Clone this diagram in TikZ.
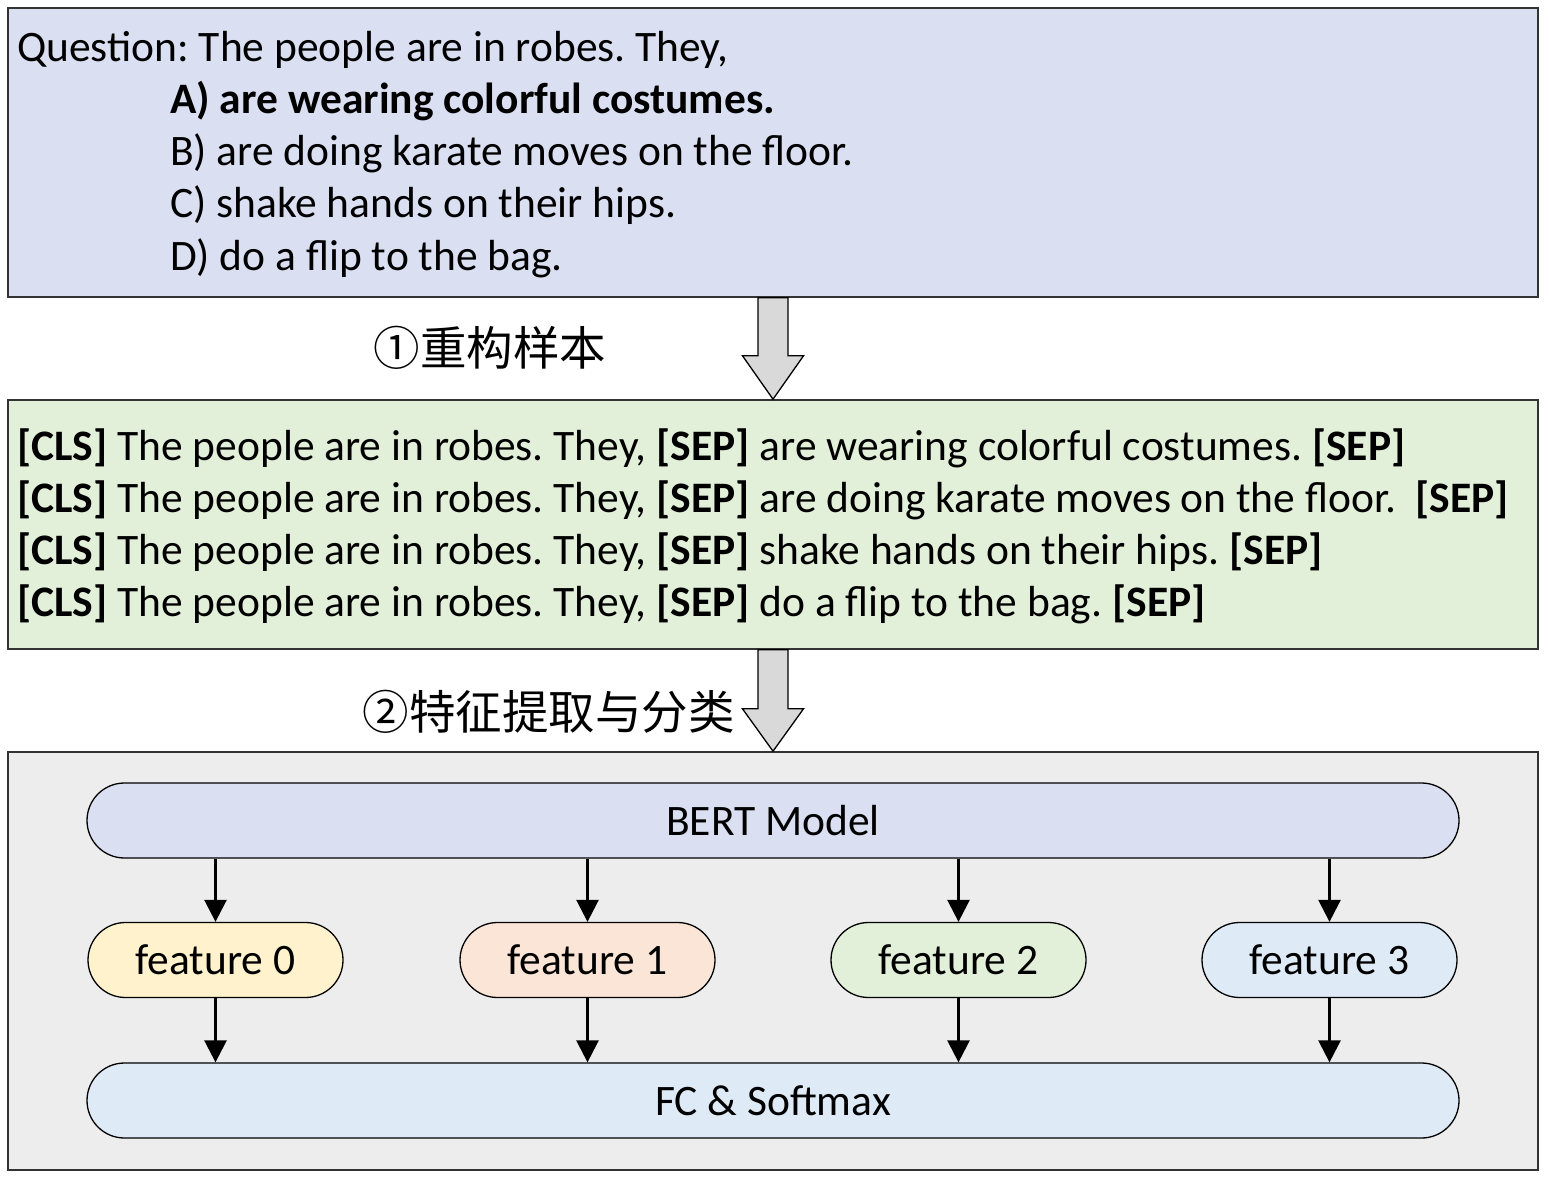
\documentclass[tikz,border=0pt]{standalone}
\usepackage{fontspec}
\setmainfont{Carlito}
\newfontfamily\cjkfont{Noto Sans CJK SC}
\usepackage{tikz}
\usetikzlibrary{positioning,calc,arrows.meta}
\definecolor{qfill}{HTML}{DAE0F2}
\definecolor{sfill}{HTML}{E2EFD9}
\definecolor{mfill}{HTML}{EDEDED}
\definecolor{fzero}{HTML}{FFF2CC}
\definecolor{fone}{HTML}{FBE5D6}
\definecolor{ftwo}{HTML}{E2F0D9}
\definecolor{fthree}{HTML}{DEEBF7}
\definecolor{edgeclr}{HTML}{333333}
\newcommand{\tok}[1]{\textbf{#1}}
\frenchspacing

\begin{document}
\begin{tikzpicture}[x=1pt, y=-1pt,
    panel/.style={draw=edgeclr, line width=1.6pt, minimum width=1530pt, inner sep=0pt},
    txt/.style={anchor=base west, inner sep=0pt, font=\fontsize{43.5}{52}\selectfont},
    pill/.style={draw=black, line width=1.3pt, rounded corners=37.5pt, minimum height=75pt,
                 inner sep=0pt, font=\fontsize{43.5}{52}\selectfont},
    feat/.style={pill, minimum width=255pt},
    bar/.style={pill, minimum width=1372pt},
    step label/.style={inner sep=0pt, font=\cjkfont\fontsize{46.5}{54}\selectfont},
    blk/.style={draw=black, line width=1.3pt, fill=black!15, line join=miter},
    arr/.style={-{Triangle[width=22pt,length=22pt]}, line width=2.6pt},
  ]
  \fill[white] (0,0) rectangle (1549,1182);

  % panels
  \node[panel, fill=qfill, minimum height=289pt] (q) at (773,152.5) {};
  \node[panel, fill=sfill, minimum height=249pt] (s) at (773,524.5) {};
  \node[panel, fill=mfill, minimum height=418pt] (m) at (773,961) {};

  % question and options
  \node[txt] (qline) at (17,62) {Question: The people are in robes. They,};
  \foreach \t [count=\i] in {\tok{A) are wearing colorful costumes.},
      B) are doing karate moves on the floor.,
      C) shake hands on their hips.,
      D) do a flip to the bag.}
    \node[txt] (opt\i) at (170,{62+52*\i}) {\t};

  % rebuilt samples
  \foreach \t [count=\i from 0] in {{are wearing colorful costumes. \tok{[SEP]}},
      {are doing karate moves on the floor.\ \ \tok{[SEP]}},
      {shake hands on their hips. \tok{[SEP]}},
      {do a flip to the bag. \tok{[SEP]}}}
    \node[txt] (smp\i) at (17,{460+52*\i}) {\tok{[CLS]} The people are in robes. They, \tok{[SEP]} \t};

  % block arrows
  \draw[blk] ($(q.south)+(-15,0)$) -- ($(q.south)+(-15,58)$) -- ($(q.south)+(-30.5,58)$)
    -- (s.north) -- ($(q.south)+(30.5,58)$) -- ($(q.south)+(15,58)$) -- ($(q.south)+(15,0)$) -- cycle;
  \draw[blk] ($(s.south)+(-15,0)$) -- ($(s.south)+(-15,59)$) -- ($(s.south)+(-30.5,59)$)
    -- (m.north) -- ($(s.south)+(30.5,59)$) -- ($(s.south)+(15,59)$) -- ($(s.south)+(15,0)$) -- cycle;
  \node[step label] (st1) at (490,348) {①重构样本};
  \node[step label] (st2) at (548.5,712) {②特征提取与分类};

  % model
  \node[bar, fill=qfill] (bert) at (773,820.5) {BERT Model};
  \node[bar, fill=fthree] (fc) at (773,1100.5) {FC \& Softmax};
  \node[feat, fill=fzero]  (f0) at (215.5,960) {feature 0};
  \node[feat, fill=fone]   (f1) at (587.5,960) {feature 1};
  \node[feat, fill=ftwo]   (f2) at (958.5,960) {feature 2};
  \node[feat, fill=fthree] (f3) at (1329.5,960) {feature 3};

  \foreach \f in {f0,f1,f2,f3} {
    \draw[arr] (\f.north |- bert.south) -- (\f.north);
    \draw[arr] (\f.south) -- (\f.south |- fc.north);
  }
\end{tikzpicture}
\end{document}
